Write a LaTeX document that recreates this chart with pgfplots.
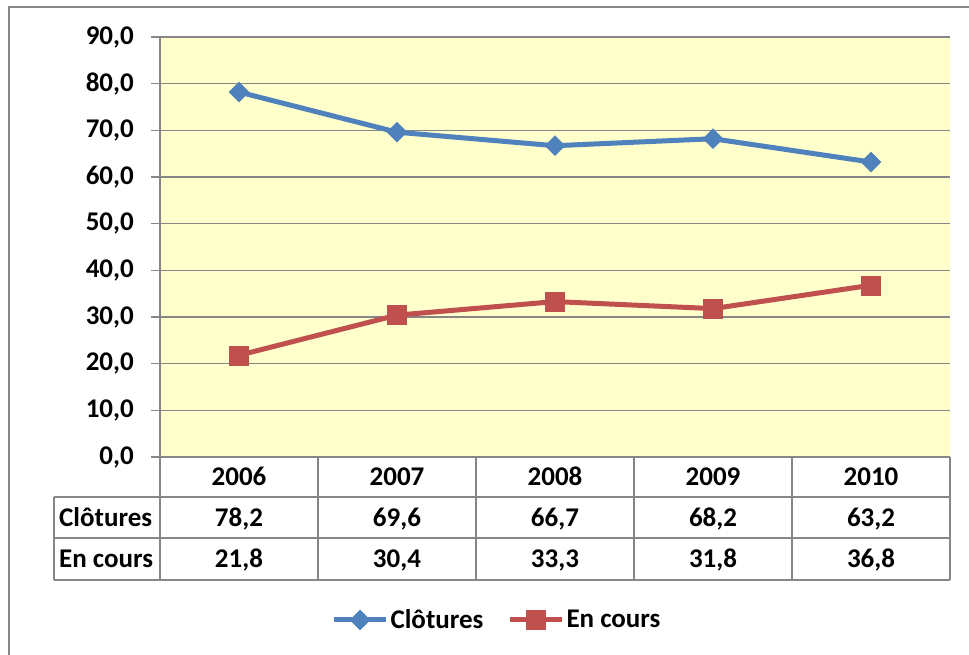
\documentclass[border=0pt]{standalone}
\usepackage{fontspec}
\setmainfont{Carlito}
\usepackage{pgfplots}
\pgfplotsset{compat=1.18}
\definecolor{cblue}{HTML}{4F81BD}
\definecolor{cred}{HTML}{C0504D}
\definecolor{bgyel}{HTML}{FFFFCC}
\definecolor{gridg}{HTML}{868686}
\newcommand\chartfont{\bfseries\fontsize{27}{32}\selectfont}
\begin{document}
\begin{tikzpicture}[x=1pt,y=1pt]
\useasboundingbox (0,0) rectangle (969,655);
\draw[gridg,line width=2pt] (9,0) -- (9,648) -- (969,648);
\begin{axis}[at={(160pt,198pt)}, anchor=south west, width=790pt, height=420pt, scale only axis,
 xmin=-0.5, xmax=4.5, ymin=0, ymax=90, ytick={0,10,...,90}, xtick=\empty,
 yticklabels={{0,0},{10,0},{20,0},{30,0},{40,0},{50,0},{60,0},{70,0},{80,0},{90,0}},
 axis lines*=left, axis line style={-, draw=gridg, line width=1.5pt},
 ymajorgrids, major grid style={gridg, line width=1.5pt},
 tick align=outside, major tick length=9pt, tick style={gridg, line width=1.5pt},
 axis background/.style={fill=bgyel},
 yticklabel style={font=\chartfont, anchor=east, inner sep=0pt},
 yticklabel shift=17pt,
 legend style={at={(0.4266,-0.388)}, anchor=center, draw=none, fill=none, legend columns=2, font=\chartfont, /tikz/every even column/.append style={column sep=22pt}},
 legend image code/.code={\draw[mark repeat=2,mark phase=2,#1] plot coordinates {(0pt,0pt)(26pt,0pt)(52pt,0pt)};},
 clip=false]
\addplot[cblue, line width=5pt, mark=square*, mark size=7pt, mark options={rotate=45, line width=0.5pt, fill=cblue, draw=cblue}] coordinates {(0,78.2)(1,69.6)(2,66.7)(3,68.2)(4,63.2)};
\addlegendentry{Clôtures}
\addplot[cred, line width=5pt, mark=square*, mark size=9.5pt, mark options={line width=0.5pt, fill=cred, draw=cred}] coordinates {(0,21.8)(1,30.4)(2,33.3)(3,31.8)(4,36.8)};
\addlegendentry{En cours}
\end{axis}
% data table
\begin{scope}[gridg, line width=1.5pt]
\foreach \x in {160,318,476,634,792,950} \draw (\x,198) -- (\x,75);
\draw (54,158) -- (54,75);
\draw (54,158) -- (950,158);
\draw (54,117) -- (950,117);
\draw (54,75) -- (950,75);
\end{scope}
\foreach \x/\yr/\a/\b in {239/2006/78{,}2/21{,}8, 397/2007/69{,}6/30{,}4, 555/2008/66{,}7/33{,}3, 713/2009/68{,}2/31{,}8, 871/2010/63{,}2/36{,}8}{
  \node[anchor=base, inner sep=0pt, font=\chartfont] at (\x,169.5) {\yr};
  \node[anchor=base, inner sep=0pt, font=\chartfont] at (\x,128) {\a};
  \node[anchor=base, inner sep=0pt, font=\chartfont] at (\x,87) {\b};
}
\node[anchor=base west, inner sep=0pt, font=\chartfont] at (59,128) {Clôtures};
\node[anchor=base west, inner sep=0pt, font=\chartfont] at (59,87) {En cours};
\end{tikzpicture}
\end{document}
